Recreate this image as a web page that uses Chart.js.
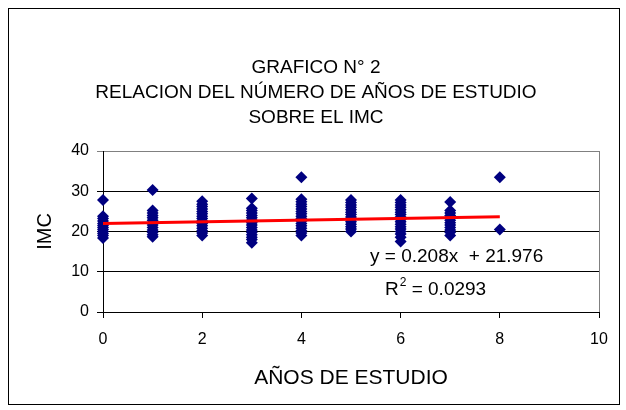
<!DOCTYPE html>
<html>
<head>
<meta charset="utf-8">
<script src="https://cdn.jsdelivr.net/npm/chart.js@4/dist/chart.umd.min.js"></script>
<style>
  html, body { margin: 0; padding: 0; background: #fff; }
  #wrap { width: 626px; height: 410px; position: relative; }
</style>
</head>
<body>
<div id="wrap"><canvas id="c" width="626" height="410"></canvas></div>
<script>
// Years of study (x) and the BMI (IMC) observed for each group of students
const anios = [0, 1, 2, 3, 4, 5, 6, 7, 8];
const imcAnio0 = [27.8, 23.8, 23.2, 22.6, 22.0, 21.5, 21.0, 20.5, 20.0, 19.5, 19.0, 18.4];
const imcAnio1 = [30.3, 25.2, 24.6, 24.0, 23.4, 22.8, 22.2, 21.6, 21.0, 20.4, 19.8, 19.2, 18.7];
const imcAnio2 = [27.5, 26.8, 26.2, 25.6, 25.0, 24.4, 23.8, 23.2, 22.6, 22.0, 21.4, 20.8, 20.2, 19.6, 19.0];
const imcAnio3 = [28.2, 25.8, 25.2, 24.6, 24.0, 23.4, 22.8, 22.2, 21.6, 21.0, 20.4, 19.8, 19.2, 18.6, 18.0, 17.2];
const imcAnio4 = [33.5, 28.0, 27.4, 26.8, 26.2, 25.6, 25.0, 24.4, 23.8, 23.2, 22.6, 22.0, 21.4, 20.8, 20.2, 19.6, 19.0];
const imcAnio5 = [27.8, 27.2, 26.6, 26.0, 25.4, 24.8, 24.2, 23.6, 23.0, 22.4, 21.8, 21.2, 20.6, 20.0];
const imcAnio6 = [27.8, 27.2, 26.6, 26.0, 25.4, 24.8, 24.2, 23.6, 23.0, 22.4, 21.8, 21.2, 20.6, 20.0, 19.4, 18.6, 17.5];
const imcAnio7 = [27.3, 25.2, 24.6, 24.0, 23.4, 22.8, 22.2, 21.6, 21.0, 20.4, 19.8, 19.0];
const imcAnio8 = [33.5, 20.5];
const imcPorAnio = [imcAnio0, imcAnio1, imcAnio2, imcAnio3, imcAnio4, imcAnio5, imcAnio6, imcAnio7, imcAnio8];

// Linear trend: y = 0.208x + 21.976, R² = 0.0293
const pendiente = 0.208;
const intercepto = 21.976;
const r2 = '0.0293';
const tendenciaX = [0, 8];

const xTicks = [0, 2, 4, 6, 8, 10];
const yTicks = [0, 10, 20, 30, 40];

const tituloLineas = ['GRAFICO N° 2', 'RELACION DEL NÚMERO DE AÑOS DE ESTUDIO', 'SOBRE EL IMC'];

const puntos = [];
anios.forEach((a, i) => imcPorAnio[i].forEach(v => puntos.push({ x: a, y: v })));
const tendencia = tendenciaX.map(x => ({ x, y: pendiente * x + intercepto }));

const FONT = '"Liberation Sans", Arial, sans-serif';

const decor = {
  id: 'decor',
  beforeDraw(chart) {
    const { ctx } = chart;
    ctx.save();
    ctx.fillStyle = '#fff';
    ctx.fillRect(0, 0, chart.width, chart.height);
    ctx.strokeStyle = '#000';
    ctx.lineWidth = 1;
    ctx.strokeRect(8.5, 8.5, 611, 396);
    ctx.restore();
  },
  afterDatasetsDraw(chart) {
    const { ctx, chartArea } = chart;
    ctx.save();
    // right edge of the plot area
    ctx.strokeStyle = '#808080';
    ctx.lineWidth = 1;
    ctx.beginPath();
    ctx.moveTo(Math.round(chartArea.right) + 0.5, chartArea.top);
    ctx.lineTo(Math.round(chartArea.right) + 0.5, chartArea.bottom);
    ctx.stroke();

    ctx.fillStyle = '#000';
    ctx.textBaseline = 'middle';
    ctx.textAlign = 'center';
    ctx.font = '19px ' + FONT;
    tituloLineas.forEach((t, i) => ctx.fillText(t, 316, 68 + i * 25));

    // regression equation and R²
    ctx.textAlign = 'left';
    ctx.font = '19px ' + FONT;
    ctx.fillText('y = ' + pendiente.toFixed(3) + 'x  + ' + intercepto.toFixed(3), 370, 257);
    let x = 385;
    ctx.fillText('R', x, 290);
    x += ctx.measureText('R').width;
    ctx.font = '12px ' + FONT;
    ctx.fillText('2', x + 1, 283);
    x += ctx.measureText('2').width + 1;
    ctx.font = '19px ' + FONT;
    ctx.fillText(' = ' + r2, x, 290);
    ctx.restore();
  }
};

new Chart(document.getElementById('c'), {
  type: 'scatter',
  data: {
    datasets: [
      {
        label: 'IMC',
        data: puntos,
        pointStyle: 'rectRot',
        pointRadius: 6,
        pointBorderWidth: 0,
        backgroundColor: '#000080',
        borderColor: '#000080',
        clip: false,
        order: 2
      },
      {
        label: 'Tendencia',
        type: 'line',
        data: tendencia,
        borderColor: '#ff0000',
        borderWidth: 3,
        pointRadius: 0,
        fill: false,
        clip: false,
        order: 1
      }
    ]
  },
  options: {
    responsive: false,
    animation: false,
    events: [],
    layout: { padding: { left: 0, top: 151, right: 27, bottom: 18 } },
    plugins: { legend: { display: false }, tooltip: { enabled: false }, title: { display: false } },
    scales: {
      x: {
        type: 'linear',
        min: 0, max: 10,
        afterBuildTicks: s => { s.ticks = xTicks.map(v => ({ value: v })); },
        afterFit: s => { s.height = 80; },
        grid: { drawOnChartArea: false, drawTicks: true, tickLength: 6, color: '#000' },
        border: { color: '#000', width: 1 },
        ticks: { color: '#000', font: { family: FONT, size: 16 }, padding: 12, maxRotation: 0 },
        title: { display: true, text: 'AÑOS DE ESTUDIO', color: '#000', font: { family: FONT, size: 21 }, padding: { top: 0, bottom: 1 } }
      },
      y: {
        type: 'linear',
        min: 0, max: 40,
        afterBuildTicks: s => { s.ticks = yTicks.map(v => ({ value: v })); },
        afterFit: s => { s.width = 103; },
        grid: { drawOnChartArea: true, drawTicks: true, tickLength: 6, color: c => (c.tick && c.tick.value === 40 ? '#808080' : '#000') },
        border: { color: '#000', width: 1 },
        ticks: { color: '#000', font: { family: FONT, size: 16 }, padding: 8 },
        title: { display: true, text: 'IMC', color: '#000', font: { family: FONT, size: 20 }, padding: { top: 33, bottom: 0 } }
      }
    }
  },
  plugins: [decor]
});
</script>
</body>
</html>
